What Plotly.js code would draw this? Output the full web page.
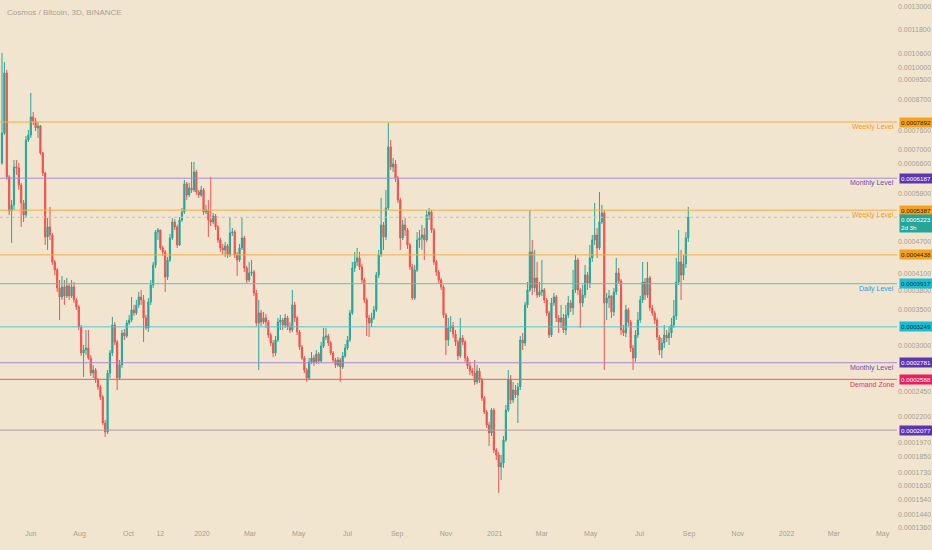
<!DOCTYPE html>
<html>
<head>
<meta charset="utf-8">
<script src="https://cdn.plot.ly/plotly-3.0.1.min.js"></script>
<style>
html, body { margin: 0; padding: 0; background: #f1e5cf; }
#chart { width: 932px; height: 550px; }
</style>
</head>
<body>
<div id="chart"></div>
<script>
'use strict';

// ATOM / BTC, 3 day candles. prices in units of 1e-7 BTC
var firstDay = [2019, 3, 26];
var firstOpen = 6610;

var closes = [
	7526, 9764, 6221, 5368, 5510, 6496, 6468, 6009, 5558, 5276, 7302, 7462, 8069, 7928, 7691, 7758, 6904, 6329, 4796, 5009,
	4838, 4304, 4157, 3845, 3698, 3862, 3714, 3879, 3714, 3862, 3651, 3542, 3247, 2901, 2939, 2965, 2839, 2660, 2695, 2581,
	2504, 2397, 2142, 2060, 2660, 2901, 3275, 3043, 2603, 2755, 3164, 3123, 3304, 3347, 3496, 3451, 3573, 3698,
	3651, 3377, 3233, 3620, 3896, 4248, 4901, 4944, 4573, 4495, 4033, 4341, 4776, 5118, 5009, 4633, 5163, 5344, 6036, 5754,
	5932, 5880, 6357, 5829, 5754, 5880, 5344, 5391, 5163, 5118, 5253, 5009, 4734, 4573, 4534, 4613, 4437, 4880, 4901, 4437,
	4341, 4573, 4776, 4193, 3981, 4103, 4121, 3763, 3304, 3451, 3318, 3377, 3318, 3136, 3029, 2901, 3069, 3318, 3347,
	3275, 3377, 3247, 3205, 3573, 3377, 3177, 2977, 2839, 2695, 2603, 2791, 2839, 2791, 2889, 2803, 2990, 3109, 3123, 3029,
	2901, 2815, 2755, 2815, 2731, 2864, 2965, 3069, 3451, 4193, 4304, 4380, 4211, 3981, 3651, 3377, 3304, 3377, 3496, 4068,
	4437, 5052, 4796, 5439, 7084, 6496, 6581, 6193, 5631, 4776, 5052, 4944, 4633, 4211, 3682, 4157, 4734, 4776,
	4838, 4734, 5276, 5344, 4944, 4304, 4121, 3981, 3862, 3421, 3069, 3233, 3261, 3150, 3043, 2864, 3096, 3043, 2839, 2743,
	2683, 2660, 2559, 2683, 2581, 2387, 2246, 2124, 2051, 2266, 1906, 1865, 1771, 1801, 1990, 2266, 2581, 2367, 2471, 2418,
	2504, 3069, 3029, 3573, 3812, 4495, 3845, 4015, 3730, 3779, 3812, 3651, 3451, 3136, 3604, 3698, 3377, 3318, 3377,
	3205, 3421, 3604, 3527, 3812, 4341, 3812, 3604, 3730, 4068, 3930, 4380, 4734, 4838, 4573, 5118, 5321, 3604, 3682, 3714,
	3466, 3779, 4103, 3964, 3205, 3164, 3496, 3318, 2965, 2839, 3136, 3347, 3651, 3947, 3730, 4015, 3527, 3451, 3347, 3109,
	2939, 3029, 3136, 3096, 3164, 3275, 3406, 3947, 4304, 4068, 4267, 4776, 5223
];

var highs = [
	10644, 10238, 9892, 6275, 5631, 6696, 6696, 6609, 6062, 5631, 7429, 7625, 8952, 8245, 8034, 7893, 7791, 6934, 6357, 5207,
	5463, 4880, 4341, 4193, 3981, 4050, 3981, 4015, 3930, 3981, 3947, 3682, 3573, 3275, 3003, 3205, 3205, 2876, 2755, 2719,
	2603, 2526, 2418, 2170, 2695, 2939, 3392, 3318, 3069, 2815, 3205, 3219, 3347, 3421, 3698, 3573, 3651, 3779,
	3812, 3730, 3421, 3682, 3981, 4304, 4944, 4987, 4944, 4613, 4534, 4399, 4859, 5207, 5185, 5052, 5230, 5439, 6141, 6088,
	6062, 6638, 6638, 6412, 5880, 5983, 5932, 5510, 5631, 6221, 5321, 5298, 5052, 4776, 4653, 4693, 4653, 5207, 4987, 4944,
	4495, 4653, 5207, 4817, 4230, 4304, 4341, 4157, 3812, 3651, 3496, 3466, 3436, 3347, 3164, 3069, 3123, 3377, 3421,
	3377, 3436, 3406, 3318, 3812, 3620, 3406, 3205, 3003, 2864, 2719, 2839, 2914, 2876, 2939, 2914, 3043, 3233, 3233, 3150,
	3056, 2926, 2839, 2851, 2839, 2914, 3016, 3123, 3496, 4304, 4495, 4573, 4495, 4267, 4015, 3682, 3421, 3451, 3557, 4121,
	4534, 5680, 5118, 5880, 7859, 7302, 6756, 6696, 6247, 5680, 5163, 5207, 4987, 4673, 4267, 4248, 4901, 4944,
	5052, 4987, 5391, 5439, 5391, 4987, 4341, 4157, 4015, 3896, 3451, 3377, 3406, 3318, 3205, 3069, 3377, 3136, 3069, 2864,
	2791, 2719, 2815, 2755, 2719, 2603, 2408, 2266, 2151, 2286, 2286, 1922, 1890, 1865, 2025, 2316, 2695, 2637, 2559, 2526,
	2548, 3123, 3164, 3620, 3947, 5391, 4734, 4534, 4304, 3947, 4341, 3845, 3682, 3481, 3682, 3763, 3730, 3421, 3573,
	3436, 3573, 3714, 3651, 4157, 4437, 4380, 3845, 3896, 4248, 4121, 4633, 4838, 5558, 4987, 5829, 5510, 5391, 3763, 3812,
	3730, 3845, 4380, 4193, 3998, 3275, 3573, 3527, 3347, 3003, 3205, 3466, 3714, 4304, 4015, 4304, 4050, 3573, 3481, 3377,
	3136, 3096, 3275, 3205, 3261, 3377, 3651, 4380, 4944, 4534, 4437, 4901, 5463
];

var lows = [
	6553, 7462, 6141, 5276, 4673, 5391, 6275, 5880, 5009, 5118, 5207, 7239, 7365, 7791, 7592, 7365, 6844, 6247, 4633, 4534,
	4734, 4248, 4068, 3779, 3347, 3651, 3573, 3682, 3651, 3682, 3604, 3496, 3205, 2864, 2615, 2876, 2815, 2626, 2603, 2548,
	2471, 2367, 2124, 2016, 2042, 2603, 2864, 3003, 2471, 2581, 2719, 3069, 3096, 3275, 3318, 3406, 3421, 3527,
	3573, 3043, 3205, 3177, 3573, 3845, 4193, 4734, 4534, 4418, 3779, 3981, 4304, 4734, 4944, 4573, 4613, 5118, 5298, 5631,
	5704, 5804, 5829, 5754, 5680, 5704, 5276, 5298, 4796, 5031, 5074, 4944, 4673, 4495, 4437, 4399, 4380, 4399, 4817, 4380,
	4050, 4304, 4534, 4121, 3930, 3947, 4050, 3714, 3261, 2695, 3261, 3289, 3233, 3096, 2990, 2851, 2864, 3043, 3205,
	3205, 3233, 3205, 3164, 3177, 3318, 3136, 2939, 2815, 2660, 2559, 2581, 2767, 2743, 2767, 2767, 2779, 2965, 3069, 2990,
	2876, 2791, 2719, 2731, 2559, 2707, 2839, 2939, 3043, 3421, 4121, 4230, 4157, 3913, 3604, 3123, 3109, 3247, 3347, 3466,
	4015, 4399, 4534, 4734, 5391, 6412, 6357, 6088, 5558, 4534, 4734, 4817, 4554, 4157, 3651, 3651, 4121, 4573,
	4534, 4341, 4693, 5163, 4880, 4248, 4050, 3913, 3812, 3377, 2876, 2990, 3177, 3096, 2990, 2815, 2839, 3003, 2791, 2707,
	2637, 2626, 2526, 2537, 2548, 2357, 2227, 2096, 1939, 2025, 1881, 1825, 1583, 1674, 1763, 1973, 2246, 2326, 2336, 2387,
	2142, 2471, 2939, 2990, 3527, 3779, 3730, 3779, 3682, 3698, 3714, 3604, 3406, 3096, 3109, 3557, 3318, 3164, 3233,
	3164, 3136, 3377, 3466, 3421, 3763, 3730, 3233, 3542, 3682, 3812, 3845, 4304, 4633, 4380, 4534, 5074, 2695, 3347, 3527,
	3377, 3406, 3730, 3913, 3136, 3123, 3109, 3261, 2914, 2695, 2791, 3096, 3304, 3604, 3651, 3682, 3481, 3406, 3289, 3069,
	2876, 2839, 2965, 3043, 3003, 3096, 3233, 3347, 3896, 3651, 3981, 4193, 4693
];

// horizontal levels drawn on the chart
var levelValues = [7892, 6187, 5387, 4438, 3917, 3249, 2781, 2588, 2077];
var levelNames = ['Weekly Level', 'Monthly Level', 'Weekly Level', '', 'Daily Level', '', 'Monthly Level', 'Demand Zone', ''];
var countdown = '2d 3h';

// axis labels
var priceTicks = [13000, 11800, 10600, 10000, 9500, 8700, 7600, 7000, 6600, 5800, 4700, 4100, 3800, 3500, 3000, 2450, 2200, 1970, 1850, 1730, 1630, 1540, 1440, 1360];
var monthTicks = ['2019-06-01', '2019-08-01', '2019-10-01', '2019-11-10', '2020-01-01', '2020-03-01', '2020-05-01', '2020-07-01', '2020-09-01', '2020-11-01',
	'2021-01-01', '2021-03-01', '2021-05-01', '2021-07-01', '2021-09-01', '2021-11-01', '2022-01-01', '2022-03-01', '2022-05-01'];
var monthNames = ['Jun', 'Aug', 'Oct', '12', '2020', 'Mar', 'May', 'Jul', 'Sep', 'Nov', '2021', 'Mar', 'May', 'Jul', 'Sep', 'Nov', '2022', 'Mar', 'May'];

var UNIT = 1e-7;
var BG = '#f1e5cf';
var AXIS_TEXT = '#a79f90';
var FONT = 'Liberation Sans, Arial, sans-serif';

// styles of the levels (same order as levelValues)
var lineColors = ['#f5ad45', '#a58ad2', '#f5ad45', '#f5ad45', '#52c4d2', '#52c4d2', '#a58ad2', '#e8596f', '#b39b95'];
var boxColors = ['#f7a21e', '#5e35b1', '#f7a21e', '#f7a21e', '#17bed2', '#17bed2', '#5e35b1', '#e91e63', '#5e35b1'];
var boxTextColors = ['#2a1f10', '#ffffff', '#2a1f10', '#2a1f10', '#0d2f52', '#0d2f52', '#ffffff', '#ffffff', '#ffffff'];
var nameColors = ['#f29a2e', '#6a52a8', '#f29a2e', '', '#2f9be0', '', '#6a52a8', '#e0385a', ''];

function fmt(v) {
	return (v * UNIT).toFixed(7);
}

var dates = [], o = [], h = [], l = [], c = [];
var t0 = Date.UTC(firstDay[0], firstDay[1], firstDay[2]);
for (var i = 0; i < closes.length; i++) {
	dates.push(new Date(t0 + i * 3 * 86400000).toISOString().slice(0, 10));
	var op = i === 0 ? firstOpen : closes[i - 1];
	o.push(op * UNIT);
	c.push(closes[i] * UNIT);
	h.push(Math.max(highs[i], op, closes[i]) * UNIT);
	l.push(Math.min(lows[i], op, closes[i]) * UNIT);
}

var xRange = ['2019-04-23 12:00', '2022-05-19'];
var last = closes[closes.length - 1];

var data = [];

// level lines
for (var k = 0; k < levelValues.length; k++) {
	data.push({
		type: 'scatter',
		mode: 'lines',
		x: xRange,
		y: [levelValues[k] * UNIT, levelValues[k] * UNIT],
		line: { color: lineColors[k], width: 1 },
		hoverinfo: 'skip',
		showlegend: false
	});
}

// last price line
data.push({
	type: 'scatter',
	mode: 'lines',
	x: xRange,
	y: [last * UNIT, last * UNIT],
	line: { color: '#bfc6b6', width: 1, dash: 'dot' },
	hoverinfo: 'skip',
	showlegend: false
});

data.push({
	type: 'candlestick',
	x: dates,
	open: o,
	high: h,
	low: l,
	close: c,
	increasing: { line: { color: '#26a69a', width: 1 }, fillcolor: '#26a69a' },
	decreasing: { line: { color: '#ef5350', width: 1 }, fillcolor: '#ef5350' },
	whiskerwidth: 0,
	hoverinfo: 'none',
	showlegend: false
});

var annotations = [{
	xref: 'paper', yref: 'paper', x: 0, y: 1,
	xanchor: 'left', yanchor: 'top', xshift: 5, yshift: -6,
	text: 'Cosmos / Bitcoin, 3D, BINANCE',
	showarrow: false,
	font: { family: FONT, size: 8, color: '#aaa294' }
}];

for (var j = 0; j < levelValues.length; j++) {
	var ly = Math.log10(levelValues[j] * UNIT);
	annotations.push({
		xref: 'paper', yref: 'y', x: 1, y: ly,
		xanchor: 'left', yanchor: 'middle', xshift: 2,
		text: fmt(levelValues[j]),
		showarrow: false,
		bgcolor: boxColors[j],
		borderpad: 1,
		width: 30,
		font: { family: FONT, size: 6.2, color: boxTextColors[j] }
	});
	if (levelNames[j]) {
		annotations.push({
			xref: 'paper', yref: 'y', x: 1, y: ly,
			xanchor: 'right', yanchor: 'middle', xshift: -1, yshift: -5,
			text: levelNames[j],
			showarrow: false,
			font: { family: FONT, size: 7, color: nameColors[j] }
		});
	}
}

// last price box with countdown
annotations.push({
	xref: 'paper', yref: 'y', x: 1, y: Math.log10(last * UNIT),
	xanchor: 'left', yanchor: 'top', xshift: 2, yshift: 3,
	text: fmt(last) + '<br>' + countdown,
	showarrow: false,
	align: 'left',
	bgcolor: '#26a69a',
	borderpad: 1,
	width: 30,
	font: { family: FONT, size: 6.2, color: '#ffffff' }
});

var layout = {
	width: 932,
	height: 550,
	paper_bgcolor: BG,
	plot_bgcolor: BG,
	margin: { l: 0, r: 35, t: 0, b: 22 },
	showlegend: false,
	hovermode: false,
	xaxis: {
		type: 'date',
		range: xRange,
		tickvals: monthTicks,
		ticktext: monthNames,
		showgrid: false,
		zeroline: false,
		showline: false,
		ticks: '',
		tickfont: { family: FONT, size: 7, color: AXIS_TEXT },
		rangeslider: { visible: false },
		fixedrange: true
	},
	yaxis: {
		type: 'log',
		side: 'right',
		range: [Math.log10(1359 * UNIT), Math.log10(13390 * UNIT)],
		tickvals: priceTicks.map(function(v) { return v * UNIT; }),
		ticktext: priceTicks.map(fmt),
		showgrid: false,
		zeroline: false,
		showline: false,
		ticks: '',
		automargin: false,
		tickfont: { family: FONT, size: 7, color: AXIS_TEXT },
		fixedrange: true
	},
	annotations: annotations
};

Plotly.newPlot('chart', data, layout, { staticPlot: true, displayModeBar: false });
</script>
</body>
</html>
